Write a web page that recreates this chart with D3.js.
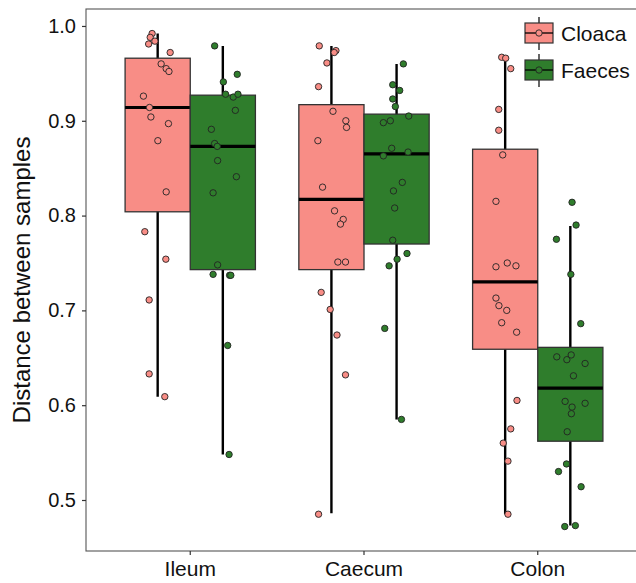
<!DOCTYPE html>
<html>
<head>
<meta charset="utf-8">
<script src="https://cdn.jsdelivr.net/npm/d3@7"></script>
<style>
  html, body { margin: 0; padding: 0; background: #fff; }
  svg { display: block; font-family: "Liberation Sans", Arial, sans-serif; }
</style>
</head>
<body>
<div id="chart"></div>
<script>
var categories = ['Ileum', 'Caecum', 'Colon'];
var groups = ['Cloaca', 'Faeces'];
var yTicks = [0.5, 0.6, 0.7, 0.8, 0.9, 1.0];

// [lower whisker, Q1, median, Q3, upper whisker] per category
var cloacaStats = [
    [0.609, 0.804, 0.914, 0.966, 0.992],
    [0.486, 0.743, 0.817, 0.917, 0.979],
    [0.485, 0.659, 0.730, 0.870, 0.968]
];
var faecesStats = [
    [0.548, 0.743, 0.873, 0.927, 0.979],
    [0.585, 0.770, 0.865, 0.907, 0.960],
    [0.473, 0.562, 0.618, 0.661, 0.789]
];

// jittered points: [jitter (category units), distance]
var cloacaIleum = [[-0.032, 0.992], [-0.043, 0.988], [-0.016, 0.984], [-0.052, 0.981], [0.072, 0.972],
    [0.020, 0.960], [0.049, 0.955], [0.065, 0.952], [-0.082, 0.926], [-0.047, 0.914], [-0.039, 0.904],
    [0.062, 0.897], [0.001, 0.879], [0.049, 0.825], [-0.074, 0.783], [0.047, 0.754], [-0.049, 0.711],
    [-0.049, 0.633], [0.041, 0.609]];
var faecesIleum = [[-0.047, 0.979], [0.083, 0.949], [0.003, 0.941], [0.016, 0.928], [0.060, 0.925],
    [0.087, 0.928], [0.072, 0.911], [-0.066, 0.891], [-0.047, 0.876], [-0.032, 0.873], [-0.030, 0.858],
    [0.078, 0.841], [-0.056, 0.824], [-0.030, 0.748], [-0.056, 0.738], [0.039, 0.737], [0.046, 0.737],
    [0.028, 0.663], [0.036, 0.548]];
var cloacaCaecum = [[-0.070, 0.979], [0.026, 0.974], [0.016, 0.972], [-0.026, 0.961], [-0.074, 0.936],
    [0.009, 0.910], [0.083, 0.900], [0.087, 0.893], [-0.078, 0.879], [-0.051, 0.830], [0.018, 0.805],
    [0.068, 0.796], [0.052, 0.791], [0.037, 0.751], [0.081, 0.751], [-0.059, 0.719], [-0.007, 0.701],
    [0.032, 0.674], [0.081, 0.632], [-0.074, 0.485]];
var faecesCaecum = [[0.039, 0.960], [-0.022, 0.938], [0.018, 0.932], [-0.022, 0.923], [-0.007, 0.915],
    [0.070, 0.905], [-0.076, 0.898], [-0.036, 0.900], [-0.028, 0.871], [0.066, 0.867], [-0.076, 0.863],
    [0.033, 0.835], [-0.018, 0.826], [-0.011, 0.808], [-0.022, 0.774], [0.060, 0.760], [0.003, 0.754],
    [-0.043, 0.747], [-0.068, 0.681], [0.028, 0.585]];
var cloacaColon = [[-0.020, 0.967], [0.003, 0.966], [0.032, 0.955], [-0.037, 0.912], [-0.037, 0.890],
    [-0.014, 0.864], [-0.053, 0.815], [-0.053, 0.746], [0.012, 0.750], [0.062, 0.747], [-0.053, 0.713],
    [-0.036, 0.705], [0.009, 0.700], [-0.020, 0.687], [0.066, 0.677], [0.068, 0.605], [0.032, 0.575],
    [-0.011, 0.560], [0.016, 0.541], [0.016, 0.485]];
var faecesColon = [[0.010, 0.814], [0.033, 0.790], [-0.080, 0.775], [0.003, 0.738], [0.060, 0.686],
    [-0.078, 0.651], [-0.020, 0.648], [0.005, 0.653], [0.085, 0.644], [0.018, 0.631], [-0.030, 0.604],
    [0.010, 0.598], [0.006, 0.591], [0.085, 0.602], [-0.018, 0.572], [-0.022, 0.538], [-0.068, 0.530],
    [0.062, 0.514], [-0.032, 0.472], [0.029, 0.473]];

var colours = { 'Cloaca': '#f88d86', 'Faeces': '#2f7d2c' };

var width = 636, height = 583;
var panel = { left: 86, top: 9, right: 642, bottom: 551 };

var svg = d3.select('#chart').append('svg')
    .attr('width', width)
    .attr('height', height);

var x = d3.scaleBand()
    .domain(categories)
    .range([panel.left, panel.right])
    .paddingInner(0)
    .paddingOuter(0.1);

var xSub = d3.scaleBand()
    .domain(groups)
    .range([0, x.bandwidth()])
    .paddingInner(0)
    .paddingOuter(1 / 3);

var y = d3.scaleLinear()
    .domain([0.4462, 1.0179])
    .range([panel.bottom, panel.top]);

var boxes = [];
var points = [];
var statsByGroup = { 'Cloaca': cloacaStats, 'Faeces': faecesStats };
var pointsByGroup = {
    'Cloaca': [cloacaIleum, cloacaCaecum, cloacaColon],
    'Faeces': [faecesIleum, faecesCaecum, faecesColon]
};
groups.forEach(function (g) {
    categories.forEach(function (c, i) {
        var s = statsByGroup[g][i];
        boxes.push({ cat: c, group: g, low: s[0], q1: s[1], med: s[2], q3: s[3], high: s[4] });
        pointsByGroup[g][i].forEach(function (p) {
            points.push({ cat: c, group: g, jitter: p[0], value: p[1] });
        });
    });
});

function cx(d) {
    return x(d.cat) + xSub(d.group) + xSub.bandwidth() / 2;
}

// whiskers
var bw = xSub.bandwidth();
svg.append('g').selectAll('line.whisker')
    .data(boxes)
    .join('line')
    .attr('x1', cx).attr('x2', cx)
    .attr('y1', d => y(d.low)).attr('y2', d => y(d.high))
    .attr('stroke', '#000')
    .attr('stroke-width', 2.4);

// boxes
var boxG = svg.append('g').selectAll('g')
    .data(boxes)
    .join('g');
boxG.append('rect')
    .attr('x', d => cx(d) - bw / 2)
    .attr('y', d => y(d.q3))
    .attr('width', bw)
    .attr('height', d => y(d.q1) - y(d.q3))
    .attr('fill', d => colours[d.group])
    .attr('stroke', '#333')
    .attr('stroke-width', 1.3);
boxG.append('line')
    .attr('x1', d => cx(d) - bw / 2)
    .attr('x2', d => cx(d) + bw / 2)
    .attr('y1', d => y(d.med)).attr('y2', d => y(d.med))
    .attr('stroke', '#000')
    .attr('stroke-width', 3.2);

// points
svg.append('g').selectAll('circle')
    .data(points)
    .join('circle')
    .attr('cx', d => cx(d) + d.jitter * x.step())
    .attr('cy', d => y(d.value))
    .attr('r', 3.2)
    .attr('fill', d => colours[d.group])
    .attr('stroke', '#222')
    .attr('stroke-width', 0.9);

// panel frame (right side lies outside the picture)
svg.append('rect')
    .attr('x', panel.left)
    .attr('y', panel.top)
    .attr('width', panel.right - panel.left)
    .attr('height', panel.bottom - panel.top)
    .attr('fill', 'none')
    .attr('stroke', '#555')
    .attr('stroke-width', 1.1);

// axes
var yAxis = d3.axisLeft(y).tickValues(yTicks).tickFormat(d3.format('.1f')).tickSize(4).tickPadding(6);
var gy = svg.append('g')
    .attr('transform', 'translate(' + panel.left + ',0)')
    .call(yAxis);

var xAxis = d3.axisBottom(x).tickSize(4).tickPadding(6);
var gx = svg.append('g')
    .attr('transform', 'translate(0,' + panel.bottom + ')')
    .call(xAxis);

[gx, gy].forEach(function (g) {
    g.select('.domain').remove();
    g.selectAll('.tick line').attr('stroke', '#333').attr('stroke-width', 1.2);
    g.selectAll('.tick text')
        .attr('fill', '#111')
        .style('font-family', '"Liberation Sans", Arial, sans-serif');
});
gy.selectAll('.tick text').style('font-size', '20px');
gx.selectAll('.tick text').style('font-size', '21px');

svg.append('text')
    .attr('transform', 'translate(30,' + (panel.top + panel.bottom) / 2 + ') rotate(-90)')
    .attr('text-anchor', 'middle')
    .style('font-size', '24px')
    .attr('fill', '#111')
    .text('Distance between samples');

// legend
var legend = svg.append('g').selectAll('g')
    .data(groups)
    .join('g')
    .attr('transform', (d, i) => 'translate(539,' + (33 + i * 37) + ')');
legend.append('line')
    .attr('y1', -16).attr('y2', 17)
    .attr('stroke', '#000').attr('stroke-width', 1.2);
legend.append('rect')
    .attr('x', -14).attr('y', -10)
    .attr('width', 28).attr('height', 20)
    .attr('fill', d => colours[d])
    .attr('stroke', '#333').attr('stroke-width', 1.2);
legend.append('line')
    .attr('x1', -14).attr('x2', 14)
    .attr('stroke', '#000').attr('stroke-width', 1.3);
legend.append('circle')
    .attr('r', 3.2)
    .attr('fill', d => colours[d])
    .attr('stroke', '#222').attr('stroke-width', 0.9);
legend.append('text')
    .attr('x', 22)
    .attr('dy', '0.36em')
    .style('font-size', '21px')
    .attr('fill', '#111')
    .text(d => d);
</script>
</body>
</html>
